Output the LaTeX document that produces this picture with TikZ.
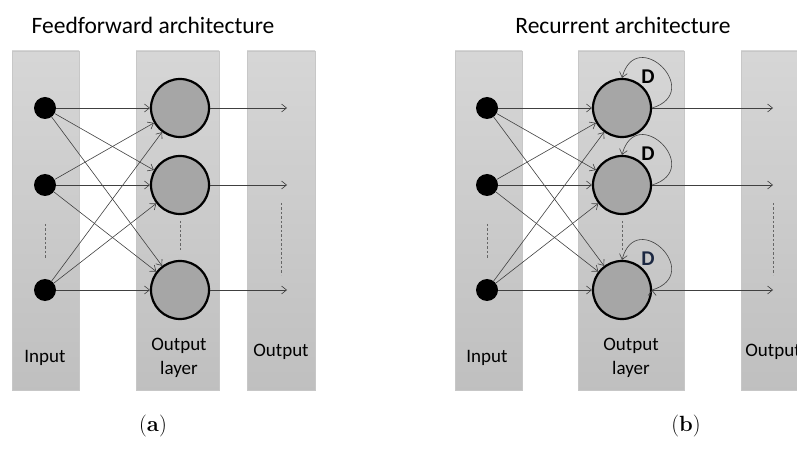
\documentclass[tikz,border=0pt]{standalone}
\usepackage{fontspec}
\newfontfamily\calibri{Carlito}
\usetikzlibrary{positioning,arrows.meta}

\tikzset{
  band/.style={draw=black!22, line width=0.7pt, top color=black!16, bottom color=black!25},
  inp/.style={circle, fill=black, minimum size=22pt, inner sep=0pt},
  neuron/.style={circle, draw=black, line width=2.2pt, fill=black!35, minimum size=58pt, inner sep=0pt},
  wire/.style={draw=black!75, line width=0.6pt},
  gap/.style={draw=black!60, line width=0.6pt, dash pattern=on 2.5pt off 2pt},
  lbl/.style={font=\calibri\fontsize{19}{24}\selectfont, align=center},
  title/.style={font=\calibri\fontsize{23.5}{28}\selectfont},
  delay/.style={font=\calibri\bfseries\fontsize{21}{24}\selectfont, inner sep=0pt},
  caption/.style={font=\fontsize{22}{26}\selectfont},
}

\begin{document}
\begin{tikzpicture}[x=1pt,y=1pt,on grid,>={Straight Barb[length=5pt,width=8pt]}]
  \useasboundingbox (0,0) rectangle (797,450);
  \clip (0,0) rectangle (797,450);

  % (a) feedforward
  \path[band] (12,60) rectangle (79,399);
  \path[band] (136,60) rectangle (219,399);
  \path[band] (247,60) rectangle (315,399);

  \node[title] (ta) at (153,425) {Feedforward architecture};

  \node[inp] (xa_1) at (45,342) {};
  \node[inp] (xa_2) [below=77pt of xa_1] {};
  \node[inp] (xa_3) [below=105pt of xa_2] {};
  \node[neuron] (ya_1) [right=135pt of xa_1] {};
  \node[neuron] (ya_2) [below=77pt of ya_1] {};
  \node[neuron] (ya_3) [below=105pt of ya_2] {};
  \coordinate[right=107pt of ya_1] (oa_1);
  \coordinate[right=107pt of ya_2] (oa_2);
  \coordinate[right=107pt of ya_3] (oa_3);

  \path[wire,->]
      (xa_1) edge (ya_1)
             edge (ya_2)
             edge (ya_3)
      (xa_2) edge (ya_1)
             edge (ya_2)
             edge (ya_3)
      (xa_3) edge (ya_1)
             edge (ya_2)
             edge (ya_3)
      (ya_1) edge (oa_1)
      (ya_2) edge (oa_2)
      (ya_3) edge (oa_3);

  \draw[gap] (45,226) -- (45,192);
  \draw[gap] (180,229) -- (180,200);
  \draw[gap] (281,247) -- (281,175);

  \node[lbl] (la_in) at (45,92) {Input};
  \node[lbl] (la_hid) at (179,92) {Output\\layer};
  \node[lbl] (la_out) at (281,98) {Output};
  \node[caption] (ca) at (153,24) {(\textbf{a})};

  % (b) recurrent
  \path[band] (455,60) rectangle (522,399);
  \path[band] (578,60) rectangle (684,399);
  \path[band] (741,60) rectangle (815,399);

  \node[title] (tb) at (623,425) {Recurrent architecture};

  \node[inp] (xb_1) at (487,342) {};
  \node[inp] (xb_2) [below=77pt of xb_1] {};
  \node[inp] (xb_3) [below=105pt of xb_2] {};
  \node[neuron] (yb_1) [right=135pt of xb_1] {};
  \node[neuron] (yb_2) [below=77pt of yb_1] {};
  \node[neuron] (yb_3) [below=105pt of yb_2] {};
  \coordinate[right=151pt of yb_1] (ob_1);
  \coordinate[right=151pt of yb_2] (ob_2);
  \coordinate[right=151pt of yb_3] (ob_3);

  \node[delay] (d_1) [above right=31pt and 26pt of yb_1] {D};
  \node[delay] (d_2) [above right=31pt and 26pt of yb_2] {D};
  \node[delay, text={rgb,255:red,28;green,40;blue,66}] (d_3) [above right=31pt and 26pt of yb_3] {D};

  \path[wire,->]
      (xb_1) edge (yb_1)
             edge (yb_2)
             edge (yb_3)
      (xb_2) edge (yb_1)
             edge (yb_2)
             edge (yb_3)
      (xb_3) edge (yb_1)
             edge (yb_2)
             edge (yb_3)
      (yb_1) edge (ob_1)
      (yb_2) edge (ob_2)
      (yb_3) edge (ob_3)
      (yb_1.east) edge [out=17,in=75,looseness=3.3] (yb_1.north)
      (yb_2.east) edge [out=17,in=75,looseness=3.3] (yb_2.north)
      (yb_3.east) edge [out=17,in=75,looseness=3.3] (yb_3.north);

  \draw[gap] (487,226) -- (487,192);
  \draw[gap] (622,229) -- (622,200);
  \draw[gap] (773,247) -- (773,175);

  \node[lbl] (lb_in) at (487,92) {Input};
  \node[lbl] (lb_hid) at (631,92) {Output\\layer};
  \node[lbl] (lb_out) at (773,98) {Output};
  \node[caption] (cb) at (686,24) {(\textbf{b})};
\end{tikzpicture}
\end{document}
